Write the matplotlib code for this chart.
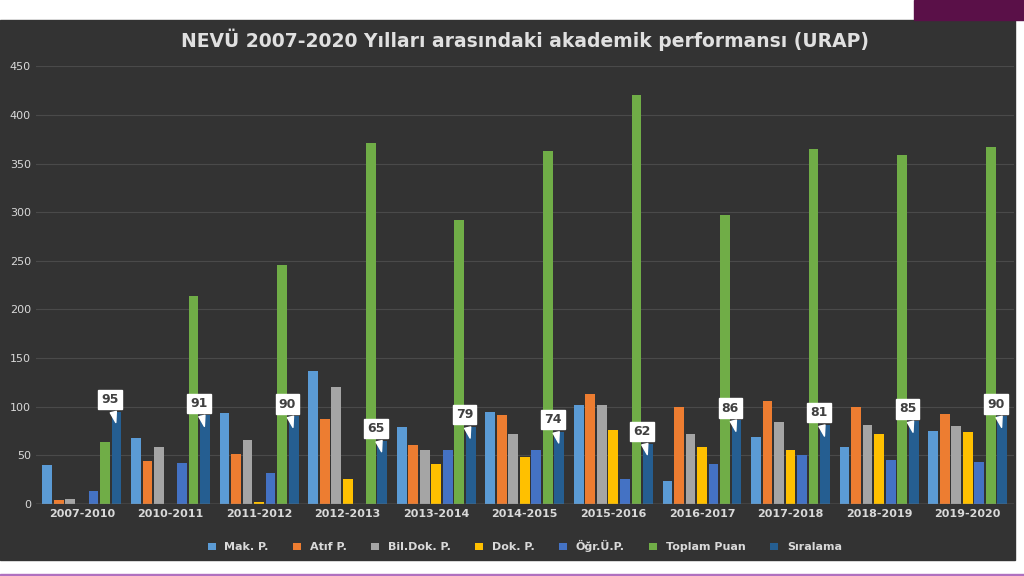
import numpy as np
import matplotlib.pyplot as plt
from matplotlib.patches import Rectangle

years = ['2007-2010', '2010-2011', '2011-2012', '2012-2013', '2013-2014', '2014-2015',
         '2015-2016', '2016-2017', '2017-2018', '2018-2019', '2019-2020']
mak = [40, 68, 94, 137, 79, 95, 102, 24, 69, 59, 75]
atif = [4, 44, 51, 87, 61, 92, 113, 100, 106, 100, 93]
bildok = [5, 59, 66, 120, 56, 72, 102, 72, 84, 81, 80]
dok = [0, 0, 2, 26, 41, 48, 76, 59, 55, 72, 74]
ogr = [13, 42, 32, 0, 55, 55, 26, 41, 50, 45, 43]
toplam = [64, 214, 246, 371, 292, 363, 420, 297, 365, 359, 367]
siralama = [95, 91, 90, 65, 79, 74, 62, 86, 81, 85, 90]

series = [('Mak. P.', mak, '#5b9bd5'), ('Atıf P.', atif, '#ed7d31'),
          ('Bil.Dok. P.', bildok, '#a5a5a5'), ('Dok. P.', dok, '#ffc000'),
          ('Öğr.Ü.P.', ogr, '#4472c4'), ('Toplam Puan', toplam, '#70ad47'),
          ('Sıralama', siralama, '#255e91')]

fig = plt.figure(figsize=(10.24, 5.76), dpi=100)
fig.patch.set_facecolor('white')
bg = Rectangle((0, 0.028), 0.991, 0.937, transform=fig.transFigure, color='#333333', zorder=-2)
fig.patches.append(bg)
fig.patches.append(Rectangle((0.893, 0.965), 0.107, 0.035, transform=fig.transFigure, color='#5a1048'))
fig.patches.append(Rectangle((0, 0.0), 1, 0.004, transform=fig.transFigure, color='#b070c0'))

ax = fig.add_axes([0.035, 0.125, 0.955, 0.76])
ax.set_facecolor('#333333')
x = np.arange(len(years))
w = 0.13
for i, (name, vals, col) in enumerate(series):
    ax.bar(x + (i - 3) * w, vals, w * 0.85, color=col, label=name, zorder=2)

for xi, v in zip(x, siralama):
    ax.annotate(str(v), xy=(xi + 3 * w, v - 14), xytext=(xi + 3 * w - 0.07, v + 6),
                ha='center', va='bottom', fontsize=9, fontweight='bold', color='#404040',
                bbox=dict(boxstyle='square,pad=0.25', fc='white', ec='white'),
                arrowprops=dict(arrowstyle='wedge,tail_width=0.5', fc='white', ec='white'),
                zorder=5)

ax.set_ylim(0, 450)
ax.set_xlim(-0.52, len(years) - 0.48)
ax.set_yticks(range(0, 451, 50))
ax.yaxis.grid(True, color='#4a4a4a', lw=0.8, zorder=0)
ax.set_xticks(x)
ax.set_xticklabels(years, fontsize=8, fontweight='bold', color='#d9d9d9')
ax.tick_params(axis='y', colors='#d9d9d9', labelsize=8, length=0)
ax.tick_params(axis='x', length=0)
for s in ax.spines.values():
    s.set_visible(False)
ax.axhline(0, color='#7f7f7f', lw=1)
ax.set_title('NEVÜ 2007-2020 Yılları arasındaki akademik performansı (URAP)',
             color='#e0e0e0', fontsize=13.5, fontweight='bold', pad=14)
leg = ax.legend(loc='upper center', bbox_to_anchor=(0.5, -0.06), ncol=7, frameon=False,
                fontsize=8, handlelength=0.7, handleheight=0.7, columnspacing=2.2)
for t in leg.get_texts():
    t.set_color('#d9d9d9')
    t.set_fontweight('bold')

fig.savefig('out.png')
